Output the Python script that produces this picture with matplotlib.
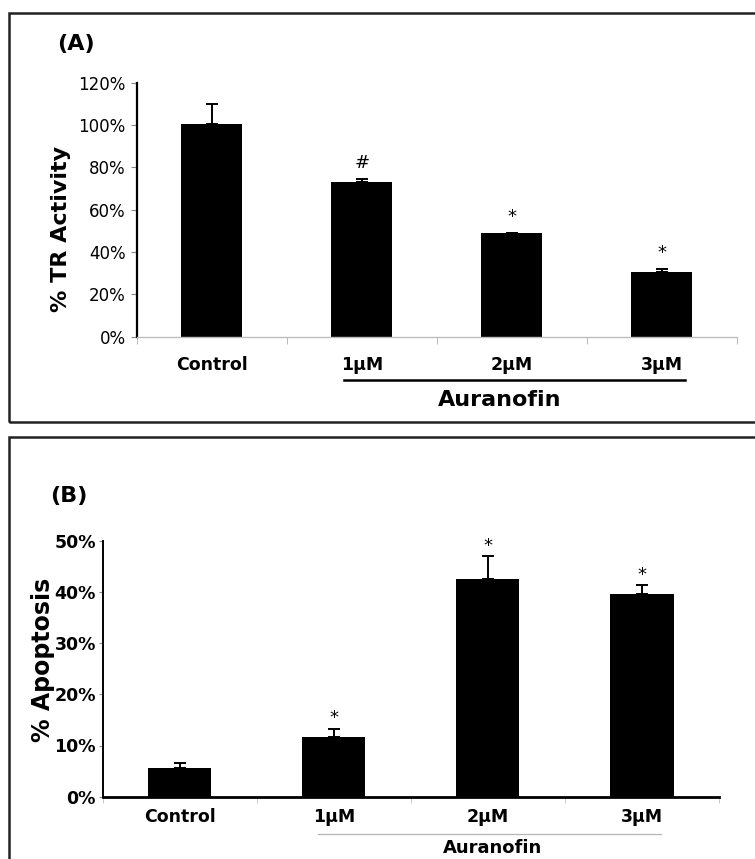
import numpy as np
import matplotlib
matplotlib.use("Agg")
import matplotlib.pyplot as plt
from matplotlib.patches import Rectangle
import matplotlib.transforms as mtransforms

# data
groups = ["Control", "1µM", "2µM", "3µM"]
tr_activity = [100.3, 72.9, 49.1, 30.4]
tr_err = [9.5, 1.4, 0.0, 1.6]
tr_marks = ["", "#", "*", "*"]

apoptosis = [5.7, 11.7, 42.5, 39.6]
apop_err = [0.8, 1.6, 4.5, 1.7]
apop_marks = ["", "*", "*", "*"]

plt.rcParams['font.family'] = ['DejaVu Sans']

fig = plt.figure(figsize=(7.55, 8.59), dpi=100)
W, H = 755, 859

def frac_x(px):
    return px / W

def frac_y(px):
    return 1 - px / H

# panel frames
for top, bot in [(12.7, 422.3), (436.7, 880)]:
    fig.patches.append(Rectangle((frac_x(9.3), frac_y(bot)), 1.05, (bot - top) / H,
                                 transform=fig.transFigure, fill=False,
                                 edgecolor="#222222", linewidth=1.8))

x = np.arange(len(groups))

# ---------- panel A ----------
axA = fig.add_axes([frac_x(136.7), frac_y(336.7), 600 / W, 254 / H])
axA.bar(x, tr_activity, width=0.41, color="black")
axA.errorbar(x, tr_activity, yerr=[np.zeros(4), tr_err], fmt="none",
             ecolor="black", elinewidth=1.4, capsize=4.5, capthick=1.4)
for xi, v, e, m in zip(x, tr_activity, tr_err, tr_marks):
    if m:
        axA.annotate(m, (xi, v + e), xytext=(0, 5), textcoords="offset points",
                     ha="center", va="bottom", fontsize=13)
axA.set_xlim(-0.5, 3.5)
axA.set_ylim(0, 120)
axA.set_yticks(range(0, 121, 20))
axA.set_yticklabels([f"{t}%" for t in range(0, 121, 20)], fontsize=12)
axA.set_xticks(x)
axA.set_xticklabels(groups, fontsize=12.5, fontweight="bold")
axA.set_xticks(np.arange(-0.5, 4, 1), minor=True)
axA.tick_params(axis="x", which="major", length=0, pad=14)
axA.tick_params(axis="x", which="minor", length=5, color="#b0b0b0", direction="out")
axA.tick_params(axis="y", length=4, color="#888888", pad=4)
for s in ["top", "right"]:
    axA.spines[s].set_visible(False)
axA.spines["left"].set_linewidth(1.6)
axA.spines["bottom"].set_color("#bdbdbd")
axA.spines["bottom"].set_linewidth(1.0)
axA.set_ylabel("% TR Activity", fontsize=16, fontweight="bold")
axA.yaxis.set_label_coords(-0.109, 0.424)

transA = mtransforms.blended_transform_factory(axA.transData, axA.transAxes)
axA.plot([0.88, 3.155], [-0.17, -0.17], transform=transA, color="black",
         linewidth=1.8, clip_on=False)
axA.text(1.92, -0.249, "Auranofin", transform=transA, ha="center", va="center",
         fontsize=16, fontweight="bold")
fig.text(frac_x(57), frac_y(44), "(A)", fontsize=16, fontweight="bold",
         ha="left", va="center")

# ---------- panel B ----------
axB = fig.add_axes([frac_x(102.7), frac_y(796.7), 616.3 / W, 256 / H])
axB.bar(x, apoptosis, width=0.41, color="black")
axB.errorbar(x, apoptosis, yerr=[np.zeros(4), apop_err], fmt="none",
             ecolor="black", elinewidth=1.4, capsize=4.5, capthick=1.4)
for xi, v, e, m in zip(x, apoptosis, apop_err, apop_marks):
    if m:
        axB.annotate(m, (xi, v + e), xytext=(0, 1), textcoords="offset points",
                     ha="center", va="bottom", fontsize=13)
axB.set_xlim(-0.5, 3.5)
axB.set_ylim(0, 50)
axB.set_yticks(range(0, 51, 10))
axB.set_yticklabels([f"{t}%" for t in range(0, 51, 10)], fontsize=12.5,
                    fontweight="bold")
axB.set_xticks(x)
axB.set_xticklabels(groups, fontsize=12.5, fontweight="bold")
axB.set_xticks(np.arange(-0.5, 4, 1), minor=True)
axB.tick_params(axis="x", which="major", length=0, pad=8)
axB.tick_params(axis="x", which="minor", length=4, color="#c0c0c0", direction="out")
axB.tick_params(axis="y", length=3, color="#888888", pad=2)
for s in ["top", "right"]:
    axB.spines[s].set_visible(False)
axB.spines["left"].set_linewidth(1.4)
axB.spines["bottom"].set_linewidth(2.0)
axB.set_ylabel("% Apoptosis", fontsize=17, fontweight="bold")
axB.yaxis.set_label_coords(-0.077, 0.534)

transB = mtransforms.blended_transform_factory(axB.transData, axB.transAxes)
axB.plot([0.898, 3.125], [-0.146, -0.146], transform=transB, color="#b5b5b5",
         linewidth=0.9, clip_on=False)
axB.text(2.03, -0.2, "Auranofin", transform=transB, ha="center", va="center",
         fontsize=13, fontweight="bold")
fig.text(frac_x(50), frac_y(496), "(B)", fontsize=16, fontweight="bold",
         ha="left", va="center")

fig.savefig("out.png", dpi=100)
